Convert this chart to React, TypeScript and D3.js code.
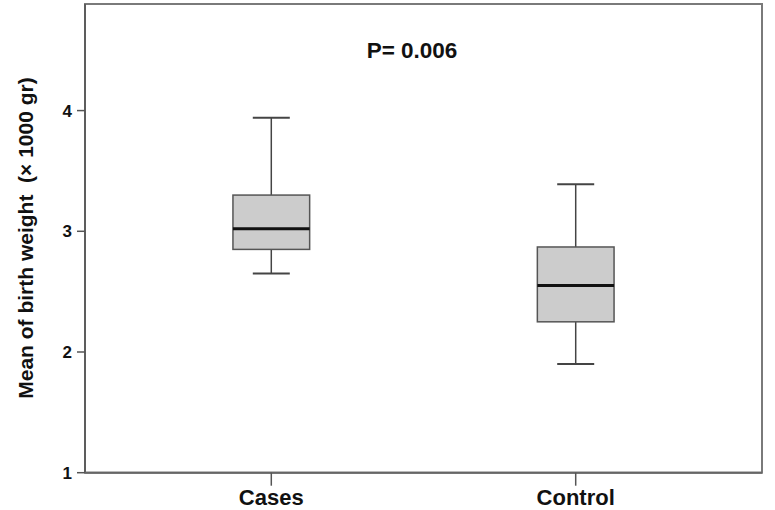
import React from "react";
import * as d3 from "d3";

const categories = ["Cases", "Control"];
const whiskerLow = [2.65, 1.9];
const q1 = [2.85, 2.25];
const median = [3.02, 2.55];
const q3 = [3.3, 2.87];
const whiskerHigh = [3.94, 3.39];
const yTicks = [1, 2, 3, 4];
const pLabel = "P= 0.006";
const yTitle = "Mean of birth weight  (× 1000 gr)";

const W = 775;
const H = 510;
const left = 85;
const right = 762;
const top = 4;
const bottom = 472.7;
const font = "'Liberation Sans', Arial, Helvetica, sans-serif";

export default function App() {
  const y = d3.scaleLinear().domain([1, 4.883]).range([bottom, top]);
  const x = d3.scalePoint<string>().domain(categories).range([left, right]).padding(0.612);
  const step = x.step();
  const boxW = step * 0.252;
  const capW = 37;

  return (
    <svg width={W} height={H} style={{ position: "absolute", left: 0, top: 0, background: "#fff" }}>
      <rect x={0} y={0} width={W} height={H} fill="#fff" />
      {/* frame */}
      <rect x={left} y={top} width={right - left} height={bottom - top} fill="none" stroke="#7a7a7a" strokeWidth={2} />
      <line x1={left} x2={left} y1={top} y2={bottom} stroke="#555" strokeWidth={1.5} />
      <line x1={left} x2={right} y1={bottom} y2={bottom} stroke="#666" strokeWidth={2} />

      {/* y ticks */}
      {yTicks.map((t) => (
        <g key={t}>
          <line x1={left - 8} x2={left} y1={y(t)} y2={y(t)} stroke="#555" strokeWidth={1.5} />
          <text x={72} y={y(t)} dy="0.36em" textAnchor="end" fontFamily={font} fontWeight="bold" fontSize={17} fill="#111">
            {t}
          </text>
        </g>
      ))}

      {/* x ticks */}
      {categories.map((c) => (
        <g key={c}>
          <line x1={x(c)} x2={x(c)} y1={bottom} y2={bottom + 13} stroke="#555" strokeWidth={1.5} />
          <text x={x(c)} y={505} textAnchor="middle" fontFamily={font} fontWeight="bold" fontSize={22} fill="#111">
            {c}
          </text>
        </g>
      ))}

      {/* boxes */}
      {categories.map((c, i) => {
        const cx = x(c) as number;
        return (
          <g key={"b" + c}>
            <line x1={cx} x2={cx} y1={y(whiskerHigh[i])} y2={y(q3[i])} stroke="#444" strokeWidth={1.5} />
            <line x1={cx} x2={cx} y1={y(q1[i])} y2={y(whiskerLow[i])} stroke="#444" strokeWidth={1.5} />
            <line x1={cx - capW / 2} x2={cx + capW / 2} y1={y(whiskerHigh[i])} y2={y(whiskerHigh[i])} stroke="#444" strokeWidth={2} />
            <line x1={cx - capW / 2} x2={cx + capW / 2} y1={y(whiskerLow[i])} y2={y(whiskerLow[i])} stroke="#444" strokeWidth={2} />
            <rect
              x={cx - boxW / 2}
              y={y(q3[i])}
              width={boxW}
              height={y(q1[i]) - y(q3[i])}
              fill="#cccccc"
              stroke="#555"
              strokeWidth={1.5}
            />
            <line x1={cx - boxW / 2} x2={cx + boxW / 2} y1={y(median[i])} y2={y(median[i])} stroke="#111" strokeWidth={3} />
          </g>
        );
      })}

      <text x={412} y={58} textAnchor="middle" fontFamily={font} fontWeight="bold" fontSize={22.5} fill="#111">
        {pLabel}
      </text>

      <text
        transform={`translate(33,238) rotate(-90)`}
        textAnchor="middle"
        fontFamily={font}
        fontWeight="bold"
        fontSize={21}
        fill="#111"
        style={{ whiteSpace: "pre" }}
      >
        {yTitle}
      </text>
    </svg>
  );
}
